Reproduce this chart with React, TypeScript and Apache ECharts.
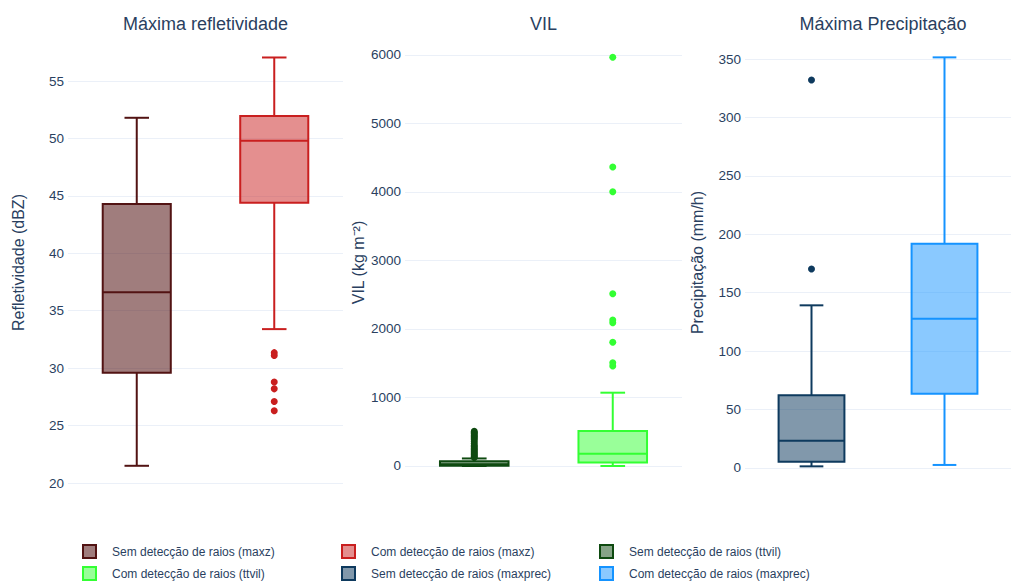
import React, { useEffect, useRef } from "react";
import * as echarts from "echarts";

// ---- Data ----
const boxNames = [
  "Sem detecção de raios (maxz)",
  "Com detecção de raios (maxz)",
  "Sem detecção de raios (ttvil)",
  "Com detecção de raios (ttvil)",
  "Sem detecção de raios (maxprec)",
  "Com detecção de raios (maxprec)",
];
// [min, q1, median, q3, max]
const maxzSem = [21.5, 29.6, 36.6, 44.3, 51.8];
const maxzCom = [33.4, 44.4, 49.8, 51.95, 57.05];
const ttvilSem = [0, 3, 25, 68, 110];
const ttvilCom = [0, 52, 178, 511, 1070];
const maxprecSem = [1.4, 5.4, 23.4, 62.2, 139.2];
const maxprecCom = [2.6, 63.6, 127.8, 192, 351.4];

const maxzSemOut: number[] = [];
const maxzComOut = [31.35, 31.1, 28.8, 28.2, 27.1, 26.3];
const ttvilSemOut = [125, 140, 160, 180, 200, 220, 240, 260, 280, 300, 330, 360, 390, 410, 430, 450, 470, 490, 505];
const ttvilComOut = [5966, 4365, 4004, 2515, 2131, 2092, 1806, 1508, 1460];
const maxprecSemOut = [170.3, 332];
const maxprecComOut: number[] = [];

const subplotTitles = ["Máxima refletividade", "VIL", "Máxima Precipitação"];
const yTitles = ["Refletividade (dBZ)", "VIL (kg m⁻²)", "Precipitação (mm/h)"];
const categories = ["Sem", "Com"];

const lineColors = ["#521313", "#c91f1f", "#0e4a10", "#33ff33", "#0e3a5e", "#1593ff"];
const fillColors = [
  "rgba(82,19,19,0.55)",
  "rgba(201,31,31,0.5)",
  "rgba(14,74,16,0.5)",
  "rgba(51,255,51,0.5)",
  "rgba(14,58,94,0.52)",
  "rgba(21,147,255,0.5)",
];

const FONT = "Liberation Sans, Arial, sans-serif";
const TXT = "#2a3f5f";

export default function App() {
  const ref = useRef<HTMLDivElement>(null);

  useEffect(() => {
    if (!ref.current) return;
    const chart = echarts.init(ref.current, null, { renderer: "svg" });

    const boxes = [maxzSem, maxzCom, ttvilSem, ttvilCom, maxprecSem, maxprecCom];
    const outs = [maxzSemOut, maxzComOut, ttvilSemOut, ttvilComOut, maxprecSemOut, maxprecComOut];

    const grids = [
      { left: 68, top: 37.5, width: 275, height: 450 },
      { left: 405, top: 37.5, width: 277, height: 450 },
      { left: 745, top: 37.5, width: 276, height: 450 },
    ];
    const yRanges = [
      { min: 19.61, max: 58.79, step: 5, gap: 42 },
      { min: -314, max: 6255, step: 1000, gap: 39 },
      { min: -16.7, max: 368.4, step: 50, gap: 40 },
    ];

    const makeRender = (lc: string, fc: string) => (params: any, api: any) => {
      const x = api.value(0);
      const pMin = api.coord([x, api.value(1)]);
      const pQ1 = api.coord([x, api.value(2)]);
      const pMed = api.coord([x, api.value(3)]);
      const pQ3 = api.coord([x, api.value(4)]);
      const pMax = api.coord([x, api.value(5)]);
      const band = api.size([1, 0])[0];
      const bw = band * 0.495;
      const cw = bw * 0.36;
      const cx = pMed[0];
      const ls = { stroke: lc, lineWidth: 2, fill: "none" };
      return {
        type: "group",
        children: [
          { type: "line", shape: { x1: cx, y1: pQ3[1], x2: cx, y2: pMax[1] }, style: ls },
          { type: "line", shape: { x1: cx, y1: pQ1[1], x2: cx, y2: pMin[1] }, style: ls },
          { type: "line", shape: { x1: cx - cw / 2, y1: pMax[1], x2: cx + cw / 2, y2: pMax[1] }, style: ls },
          { type: "line", shape: { x1: cx - cw / 2, y1: pMin[1], x2: cx + cw / 2, y2: pMin[1] }, style: ls },
          {
            type: "rect",
            shape: { x: cx - bw / 2, y: pQ3[1], width: bw, height: pQ1[1] - pQ3[1] },
            style: { fill: fc, stroke: lc, lineWidth: 2 },
          },
          { type: "line", shape: { x1: cx - bw / 2, y1: pMed[1], x2: cx + bw / 2, y2: pMed[1] }, style: ls },
        ],
      };
    };

    const series: any[] = [];
    boxes.forEach((b, i) => {
      const g = Math.floor(i / 2);
      const cat = i % 2;
      series.push({
        type: "custom",
        name: boxNames[i],
        xAxisIndex: g,
        yAxisIndex: g,
        renderItem: makeRender(lineColors[i], fillColors[i]),
        encode: { x: 0, y: [1, 2, 3, 4, 5] },
        itemStyle: { color: fillColors[i], borderColor: lineColors[i] },
        data: [[cat, ...b]],
        z: 2,
      });
      if (outs[i].length) {
        series.push({
          type: "scatter",
          name: boxNames[i],
          xAxisIndex: g,
          yAxisIndex: g,
          symbolSize: 7,
          itemStyle: { color: lineColors[i], opacity: 1 },
          data: outs[i].map((v) => [cat, v]),
          z: 3,
        });
      }
    });

    const legendPos = [
      { left: 82, top: 544 },
      { left: 341, top: 544 },
      { left: 599, top: 544 },
      { left: 82, top: 566 },
      { left: 341, top: 566 },
      { left: 599, top: 566 },
    ];

    chart.setOption({
      animation: false,
      backgroundColor: "#ffffff",
      textStyle: { fontFamily: FONT },
      title: subplotTitles.map((t, i) => ({
        text: t,
        left: grids[i].left + grids[i].width / 2 - 5,
        top: 10,
        textAlign: "center",
        textStyle: { fontFamily: FONT, fontSize: 18, fontWeight: "normal", color: TXT },
      })),
      legend: boxNames.map((n, i) => ({
        data: [
          {
            name: n,
            icon: "rect",
            itemStyle: { color: fillColors[i], borderColor: lineColors[i], borderWidth: 2 },
          },
        ],
        left: legendPos[i].left,
        top: legendPos[i].top,
        itemWidth: 13,
        itemHeight: 13,
        padding: 0,
        textStyle: { fontFamily: FONT, fontSize: 12, color: TXT, padding: [0, 0, 0, 11] },
        selectedMode: false,
      })),
      grid: grids,
      xAxis: grids.map((_, i) => ({
        type: "category",
        gridIndex: i,
        data: categories,
        show: false,
      })),
      yAxis: yRanges.map((r, i) => ({
        type: "value",
        gridIndex: i,
        min: r.min,
        max: r.max,
        splitNumber: 8,
        minInterval: r.step,
        maxInterval: r.step,
        name: yTitles[i],
        nameLocation: "middle",
        nameGap: r.gap,
        nameTextStyle: { fontFamily: FONT, fontSize: 16, color: TXT },
        axisLine: { show: false },
        axisTick: { show: false },
        axisLabel: {
          fontFamily: FONT,
          fontSize: 13.5,
          color: TXT,
          margin: 4,
          showMinLabel: false,
          showMaxLabel: false,
          formatter: (v: number) => String(v),
        },
        splitLine: {
          show: true,
          showMinLine: false,
          showMaxLine: false,
          lineStyle: { color: "#EBF0F8", width: 1 },
        },
      })),
      series,
    });

    return () => chart.dispose();
  }, []);

  return (
    <div
      ref={ref}
      style={{ position: "fixed", left: 0, top: 0, width: 1011, height: 581, background: "#fff" }}
    />
  );
}
